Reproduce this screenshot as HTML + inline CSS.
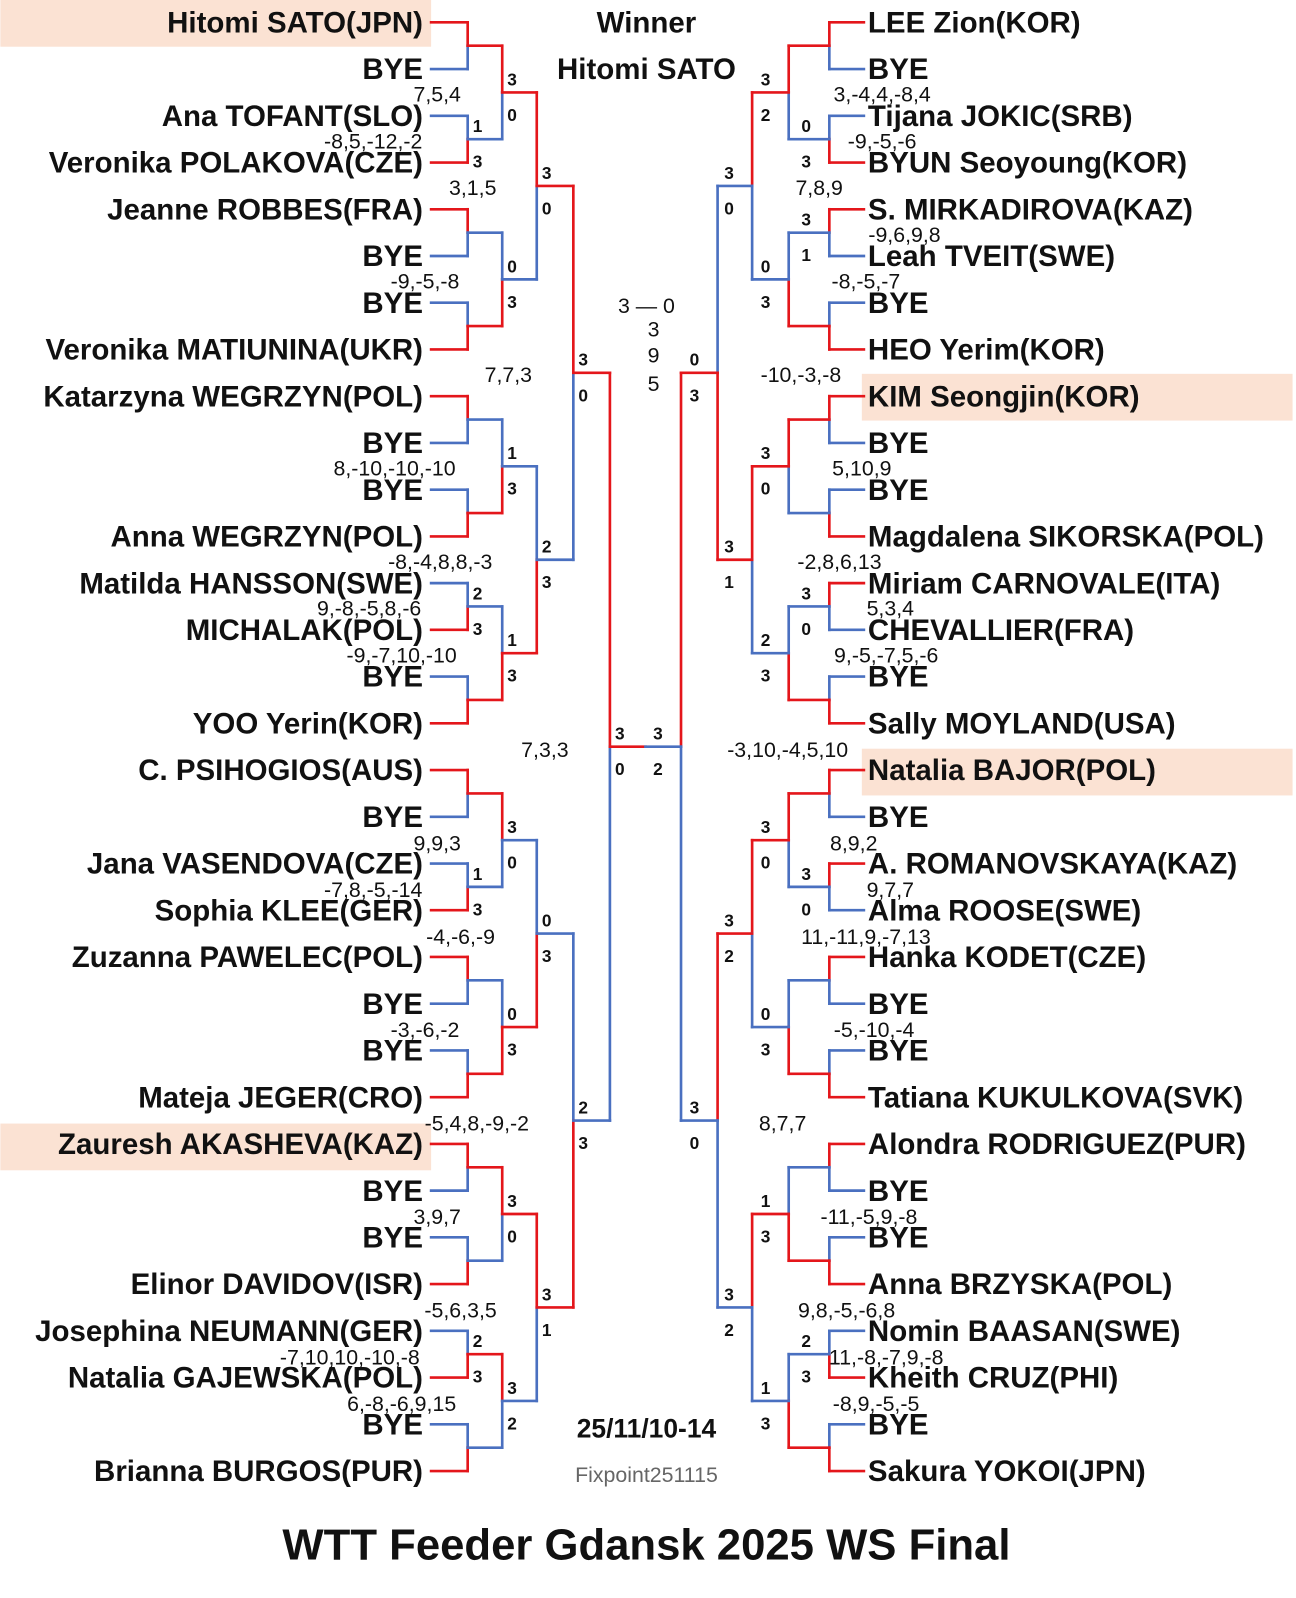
<!DOCTYPE html>
<html><head><meta charset="utf-8">
<style>
html,body{margin:0;padding:0;background:#fff;}
svg{display:block;}
text{font-family:"Liberation Sans","Noto Sans CJK JP",sans-serif;}
.n{font-size:29px;font-weight:bold;fill:#111;}
.s{font-size:21px;fill:#111;}
.l{font-size:17px;font-weight:bold;fill:#111;}
</style></head>
<body>
<svg id="sv" width="1296" height="1598" viewBox="0 0 1275 1573" xmlns="http://www.w3.org/2000/svg">
<rect x="0" y="0" width="424" height="46" fill="#fbe2d3"/>
<rect x="0" y="1106" width="424" height="46" fill="#fbe2d3"/>
<rect x="848" y="368" width="424" height="46" fill="#fbe2d3"/>
<rect x="848" y="737" width="424" height="46" fill="#fbe2d3"/>
<g id="g"></g>
<text x="636" y="32" text-anchor="middle" class="n">Winner</text>
<text x="636" y="78" text-anchor="middle" class="n">Hitomi SATO</text>
<text x="636" y="308" text-anchor="middle" class="s">3 — 0</text>
<text x="643" y="331" text-anchor="middle" class="s">3</text>
<text x="643" y="357" text-anchor="middle" class="s">9</text>
<text x="643" y="385" text-anchor="middle" class="s">5</text>
<text x="636" y="1415" text-anchor="middle" style="font-size:26px;font-weight:bold;fill:#111">25/11/10-14</text>
<text x="636" y="1459" text-anchor="middle" style="font-size:21px;fill:#666">Fixpoint251115</text>
<text x="636" y="1535" text-anchor="middle" style="font-size:43px;font-weight:bold;fill:#111">WTT Feeder Gdansk 2025 WS Final</text>
</svg>
<script>
var NS="http://www.w3.org/2000/svg",G=document.getElementById("g");
var RED="#e4161b",BLUE="#4a70c0";
function ln(x1,y1,x2,y2,c){var e=document.createElementNS(NS,"line");e.setAttribute("x1",x1);e.setAttribute("y1",y1);e.setAttribute("x2",x2);e.setAttribute("y2",y2);e.setAttribute("stroke",c);e.setAttribute("stroke-width","2.6");e.setAttribute("stroke-linecap","square");G.appendChild(e);}
function tx(x,y,s,cls,anc){var e=document.createElementNS(NS,"text");e.setAttribute("x",x);e.setAttribute("y",y);e.setAttribute("class",cls);if(anc)e.setAttribute("text-anchor",anc);e.textContent=s;G.appendChild(e);}
var LN=["Hitomi SATO(JPN)","BYE","Ana TOFANT(SLO)","Veronika POLAKOVA(CZE)","Jeanne ROBBES(FRA)","BYE","BYE","Veronika MATIUNINA(UKR)","Katarzyna WEGRZYN(POL)","BYE","BYE","Anna WEGRZYN(POL)","Matilda HANSSON(SWE)","MICHALAK(POL)","BYE","YOO Yerin(KOR)","C. PSIHOGIOS(AUS)","BYE","Jana VASENDOVA(CZE)","Sophia KLEE(GER)","Zuzanna PAWELEC(POL)","BYE","BYE","Mateja JEGER(CRO)","Zauresh AKASHEVA(KAZ)","BYE","BYE","Elinor DAVIDOV(ISR)","Josephina NEUMANN(GER)","Natalia GAJEWSKA(POL)","BYE","Brianna BURGOS(PUR)"];
var RN=["LEE Zion(KOR)","BYE","Tijana JOKIC(SRB)","BYUN Seoyoung(KOR)","S. MIRKADIROVA(KAZ)","Leah TVEIT(SWE)","BYE","HEO Yerim(KOR)","KIM Seongjin(KOR)","BYE","BYE","Magdalena SIKORSKA(POL)","Miriam CARNOVALE(ITA)","CHEVALLIER(FRA)","BYE","Sally MOYLAND(USA)","Natalia BAJOR(POL)","BYE","A. ROMANOVSKAYA(KAZ)","Alma ROOSE(SWE)","Hanka KODET(CZE)","BYE","BYE","Tatiana KUKULKOVA(SVK)","Alondra RODRIGUEZ(PUR)","BYE","BYE","Anna BRZYSKA(POL)","Nomin BAASAN(SWE)","Kheith CRUZ(PHI)","BYE","Sakura YOKOI(JPN)"];
var LW0="tbtbtbbbtbtbtbbb",RW0="tbtbtbtbtttbtbbb";
var LL=[{1:[1,3],6:[2,3],9:[1,3],14:[2,3]},[[3,0],[0,3],[1,3],[1,3],[3,0],[0,3],[3,0],[3,2]],[[3,0],[2,3],[0,3],[3,1]],[[3,0],[2,3]],[[3,0]]];
var RL=[{1:[0,3],2:[3,1],6:[3,0],9:[3,0],14:[2,3]},[[3,2],[0,3],[3,0],[2,3],[3,0],[0,3],[1,3],[1,3]],[[3,0],[3,1],[3,2],[3,2]],[[0,3],[3,0]],[[3,2]]];
function side(names,w0,labs,X,dir,finalRed){
  var ys=[];for(var i=0;i<32;i++){ys.push(22+46*i);
    if(dir>0)tx(416,22+46*i+10,names[i],"n","end");else tx(854,22+46*i+10,names[i],"n","start");}
  for(var r=0;r<5;r++){var ny=[];var n=ys.length/2;
    for(var m=0;m<n;m++){var a=ys[2*m],b=ys[2*m+1],mid=(a+b)/2;var lab=labs[r][m];var top;
      if(r==0&&!lab)top=w0[m]=="t";else top=lab[0]>lab[1];
      var ca=top?RED:BLUE,cb=top?BLUE:RED,x0=X[r],x1=X[r+1];
      ln(x0,a,x1,a,ca);ln(x1,a,x1,mid,ca);ln(x0,b,x1,b,cb);ln(x1,b,x1,mid,cb);
      if(lab){if(dir>0){tx(x1+5,mid-7,lab[0],"l","start");tx(x1+5,mid+28,lab[1],"l","start");}
        else{tx(x1-18,mid-7,lab[0],"l","end");tx(x1-18,mid+28,lab[1],"l","end");}}
      ny.push(mid);}
    ys=ny;}
  ln(X[5],ys[0],635,ys[0],finalRed?RED:BLUE);
}
side(LN,LW0,LL,[424,460,494,528,564,600],1,1);
side(RN,RW0,RL,[850,816,776,740,706,670],-1,0);
var S=[["7,5,4",430,100],["-8,5,-12,-2",367,146],["3,1,5",465,192],["-9,-5,-8",418,284],["7,7,3",500,376],["8,-10,-10,-10",388,468],["-8,-4,8,8,-3",433,560],["9,-8,-5,8,-6",363,606],["-9,-7,10,-10",395,652],["7,3,3",536,745],["9,9,3",430,837],["-7,8,-5,-14",367,883],["-4,-6,-9",453,929],["-3,-6,-2",418,1021],["-5,4,8,-9,-2",469,1113],["3,9,7",430,1205],["-5,6,3,5",453,1297],["-7,10,10,-10,-8",344,1343],["6,-8,-6,9,15",395,1389],
["3,-4,4,-8,4",868,100],["-9,-5,-6",868,146],["7,8,9",806,192],["-9,6,9,8",890,238],["-8,-5,-7",852,284],["-10,-3,-8",788,376],["5,10,9",848,468],["-2,8,6,13",826,560],["5,3,4",876,606],["9,-5,-7,5,-6",872,652],["-3,10,-4,5,10",775,745],["8,9,2",840,837],["9,7,7",876,883],["11,-11,9,-7,13",852,929],["-5,-10,-4",860,1021],["8,7,7",770,1113],["-11,-5,9,-8",855,1205],["9,8,-5,-6,8",833,1297],["11,-8,-7,9,-8",872,1343],["-8,9,-5,-5",862,1389]];
S.forEach(function(s){tx(s[1],s[2],s[0],"s","middle");});
</script>
</body></html>
